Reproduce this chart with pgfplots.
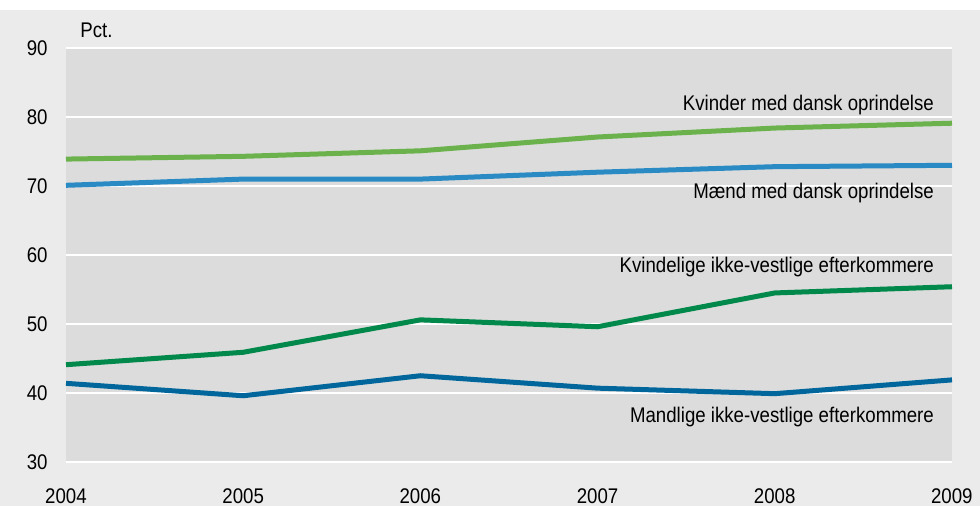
\documentclass[border=0pt]{standalone}
\usepackage{fontspec}
\setmainfont{Liberation Sans}[FakeStretch=0.88]
\usepackage{pgfplots}
\pgfplotsset{compat=1.18}
\definecolor{outerbg}{HTML}{EBEBEB}
\definecolor{plotbg}{HTML}{DCDCDC}
\definecolor{kvdk}{HTML}{6BB24D}
\definecolor{mdk}{HTML}{2A8AC4}
\definecolor{kvik}{HTML}{00894B}
\definecolor{mik}{HTML}{00669B}
\begin{document}
\begin{tikzpicture}
\useasboundingbox (-33pt,-22pt) rectangle (457pt,231pt);
\fill[white] (-33pt,-22pt) rectangle (457pt,231pt);
\fill[outerbg] (-33pt,-22pt) rectangle (457pt,226pt);
\begin{axis}[
    at={(0pt,0pt)}, anchor=south west,
    scale only axis,
    width=443pt, height=207pt,
    xmin=2004, xmax=2009,
    ymin=30, ymax=90,
    xtick={2004,...,2009},
    ytick={30,40,...,90},
    axis line style={draw=none},
    axis background/.style={fill=plotbg},
    ymajorgrids,
    grid style={white, line width=1pt},
    major tick length=0pt,
    tick label style={font=\fontsize{10.6}{12}\selectfont, inner sep=0pt},
    /pgf/number format/assume math mode=true,
    xticklabel style={anchor=center, yshift=-17pt, /pgf/number format/1000 sep={}},
    yticklabel style={anchor=east, xshift=-9pt},
    clip=false,
    every axis plot/.style={line width=2.5pt},
    nodes={font=\fontsize{10.6}{12}\selectfont, inner sep=0pt},
  ]
\addplot[kvdk] coordinates {(2004,73.9) (2005,74.3) (2006,75.1) (2007,77.1) (2008,78.4) (2009,79.1)};
\addplot[mdk] coordinates {(2004,70.1) (2005,71.0) (2006,71.0) (2007,72.0) (2008,72.8) (2009,73.0)};
\addplot[kvik] coordinates {(2004,44.1) (2005,45.9) (2006,50.6) (2007,49.6) (2008,54.5) (2009,55.4)};
\addplot[mik] coordinates {(2004,41.4) (2005,39.6) (2006,42.5) (2007,40.7) (2008,39.9) (2009,41.9)};
\node[anchor=east] at (axis cs:2008.9,81.7) {Kvinder med dansk oprindelse};
\node[anchor=east] at (axis cs:2008.9,69.0) {Mænd med dansk oprindelse};
\node[anchor=east] at (axis cs:2008.9,58.3) {Kvindelige ikke-vestlige efterkommere};
\node[anchor=east] at (axis cs:2008.9,36.5) {Mandlige ikke-vestlige efterkommere};
\node[anchor=west] at ([xshift=7pt,yshift=9pt]rel axis cs:0,1) {Pct.};
\end{axis}
\end{tikzpicture}
\end{document}
